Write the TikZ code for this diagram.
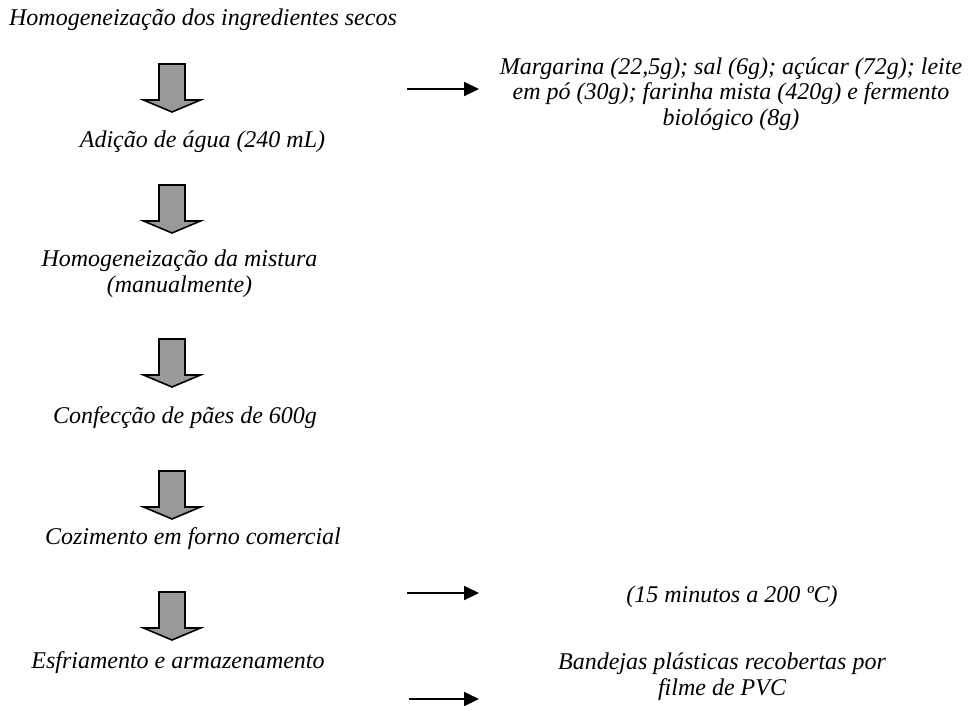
\documentclass[tikz,border=0pt]{standalone}
\usepackage{fontspec}
\setmainfont{Liberation Serif}
\usetikzlibrary{arrows.meta}
\newcommand{\pSetaBloco}[2]{\draw[bloco, shift={(#1,#2)}] (-13,0) -- (13,0) -- (13,36) -- (28.5,36) -- (0,48) -- (-28.5,36) -- (-13,36) -- cycle;}

\begin{document}
\begin{tikzpicture}[x=1pt,y=-1pt,
  etapa/.style={font={\fontsize{24}{25.5}\selectfont\itshape}, anchor=base, inner sep=0pt, align=center},
  seta/.style={-{Triangle[length=15pt,width=14pt]}, line width=2pt},
  bloco/.style={draw=black, line width=1.6pt, fill=black!40, line join=miter}]
\useasboundingbox (0,0) rectangle (968,705);
\node[etapa] (secos) at (203,25) {Homogeneização dos ingredientes secos};
\node[etapa] (agua) at (202.5,147) {Adição de água (240 mL)};
\node[etapa] (mistura) at (179.5,292) {Homogeneização da mistura\\(manualmente)};
\node[etapa] (paes) at (185,423) {Confecção de pães de 600g};
\node[etapa] (forno) at (193,544) {Cozimento em forno comercial};
\node[etapa] (frio) at (178,668) {Esfriamento e armazenamento};
\pSetaBloco{172}{64}
\pSetaBloco{172}{185}
\pSetaBloco{172}{339}
\pSetaBloco{172}{471}
\pSetaBloco{172}{592}
\node[etapa] (ingred) at (731,125) {Margarina (22,5g); sal (6g); açúcar (72g); leite\\em pó (30g); farinha mista (420g) e fermento\\biológico (8g)};
\node[etapa] (tempo) at (732,602) {(15 minutos a 200 ºC)};
\node[etapa] (bandeja) at (722,695) {Bandejas plásticas recobertas por\\filme de PVC};
\coordinate (ingredA) at (407,89);
\coordinate (ingredB) at (479,89);
\coordinate (tempoA) at (407,593);
\coordinate (tempoB) at (479,593);
\coordinate (bandejaA) at (409,699);
\coordinate (bandejaB) at (479,699);
\draw[seta] (ingredA) -- (ingredB);
\draw[seta] (tempoA) -- (tempoB);
\draw[seta] (bandejaA) -- (bandejaB);
\end{tikzpicture}
\end{document}
